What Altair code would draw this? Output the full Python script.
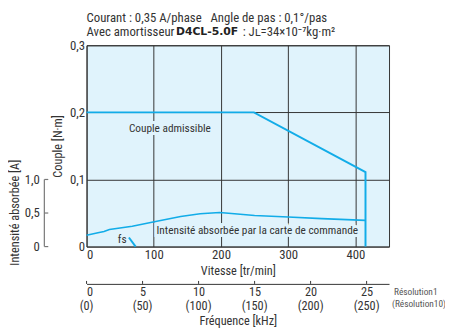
import altair as alt
import pandas as pd

FONT = "Roboto Condensed, Noto Sans Condensed, Liberation Sans Narrow, DejaVu Sans Condensed, sans-serif"
BLUE = "#12ace8"
GRID = "#333333"
TXT = "#333333"
FILL = "#e0f3fc"

# ---- data ----
torque_rpm = [0, 249, 415, 415]
torque_nm = [0.2, 0.2, 0.111, 0.0]

current_rpm = [0, 17, 26, 34, 68, 99, 140, 169, 198, 220, 250, 300, 350, 415]
current_a = [0.17, 0.205, 0.224, 0.254, 0.302, 0.366, 0.449, 0.488, 0.507, 0.49, 0.462, 0.44, 0.417, 0.39]

fs_rpm = [63, 73]
fs_nm = [0.0135, 0.0]

rpm_ticks = [0, 100, 200, 300, 400]
torque_ticks = [0, 0.05, 0.1, 0.15, 0.2, 0.25, 0.3]
current_ticks = [0, 0.5, 1.0]
freq_ticks = [0, 5, 10, 15, 20, 25]
freq_res10_labels = ["(0)", "(50)", "(100)", "(150)", "(200)", "(250)"]

labels = ["Couple admissible", "Intensité absorbée par la carte de commande", "fs"]
label_rpm = [124, 254, 53]
label_nm = [0.175, 0.0225, 0.009]

W, H = 308, 205

torque_df = pd.DataFrame({"rpm": torque_rpm, "nm": torque_nm})
current_df = pd.DataFrame({"rpm": current_rpm, "a": current_a})
fs_df = pd.DataFrame({"rpm": fs_rpm, "nm": fs_nm})
lab_df = pd.DataFrame({"t": labels, "rpm": label_rpm, "nm": label_nm})
cur_tick_df = pd.DataFrame({"a": current_ticks})
freq_df = pd.DataFrame({"freq": freq_ticks, "lab10": freq_res10_labels})

xs = alt.Scale(domain=[0, 450], nice=False, zero=False)
ys = alt.Scale(domain=[0, 0.3], nice=False)

xaxis = alt.Axis(values=rpm_ticks, grid=True, ticks=False, domain=False,
                 labelPadding=2, title="Vitesse [tr/min]", titlePadding=3)
yaxis = alt.Axis(values=torque_ticks, grid=True, ticks=False, domain=False,
                 labelPadding=2, title="Couple [N·m]", titlePadding=5,
                 labelExpr="datum.value == 0 ? '0' : (round(datum.value*100) % 10 == 0 ? replace(format(datum.value, '.1f'), '.', ',') : '')")

torque_line = alt.Chart(torque_df).mark_line(color=BLUE, strokeWidth=2).encode(
    x=alt.X("rpm:Q", scale=xs, axis=xaxis),
    y=alt.Y("nm:Q", scale=ys, axis=yaxis),
)
fs_line = alt.Chart(fs_df).mark_line(color=BLUE, strokeWidth=2).encode(
    x=alt.X("rpm:Q", scale=xs), y=alt.Y("nm:Q", scale=ys)
)
halo = alt.Chart(lab_df).mark_text(fontSize=11.5, color=FILL, stroke=FILL, strokeWidth=6,
                                   font=FONT, baseline="middle").encode(
    x=alt.X("rpm:Q", scale=xs), y=alt.Y("nm:Q", scale=ys), text="t:N"
)
texts = alt.Chart(lab_df).mark_text(fontSize=11.5, color=TXT, font=FONT, baseline="middle").encode(
    x=alt.X("rpm:Q", scale=xs), y=alt.Y("nm:Q", scale=ys), text="t:N"
)
torque_layer = alt.layer(halo, torque_line, fs_line, texts)

cur_scale = alt.Scale(domain=[0, 3], nice=False)
cur_axis = alt.Axis(orient="left", offset=44, values=current_ticks, domain=False, ticks=False,
                    grid=False, labelPadding=4, labelColor=TXT,
                    labelExpr="datum.value == 0 ? '0' : replace(format(datum.value, '.1f'), '.', ',')",
                    title="Intensité absorbée [A]", titleX=-29, titleY=170, titleBaseline="middle")
current_line = alt.Chart(current_df).mark_line(color=BLUE, strokeWidth=1.6).encode(
    x=alt.X("rpm:Q", scale=xs, axis=None),
    y=alt.Y("a:Q", scale=cur_scale, axis=cur_axis),
)
cur_rule = alt.Chart(cur_tick_df).mark_rule(color="#777777", strokeWidth=1.2).encode(
    x=alt.value(-43), y=alt.Y("min(a):Q", scale=cur_scale), y2="max(a):Q"
)
cur_ticks = alt.Chart(cur_tick_df).mark_rule(color="#777777", strokeWidth=1.2).encode(
    x=alt.value(-43), x2=alt.value(-39), y=alt.Y("a:Q", scale=cur_scale)
)
current_layer = alt.layer(current_line, cur_rule, cur_ticks)

fscale = alt.Scale(domain=[0, 27], nice=False)
freq_axis = alt.Axis(orient="bottom", offset=38, values=freq_ticks, ticks=False, grid=False,
                     domain=True, domainColor=GRID, labelPadding=2, labelFontSize=12.5,
                     title="Fréquence [kHz]", titlePadding=17)
freq_rule = alt.Chart(freq_df).mark_rule(color=GRID).encode(
    x=alt.X("freq:Q", scale=fscale, axis=freq_axis),
    y=alt.value(H + 38 - 3), y2=alt.value(H + 38),
)
freq_lab10 = alt.Chart(freq_df).mark_text(fontSize=12.5, color=TXT, font=FONT, baseline="middle").encode(
    x=alt.X("freq:Q", scale=fscale), y=alt.value(H + 61), text="lab10:N"
)
res_df = pd.DataFrame({"t": ["Résolution1", "(Résolution10)"]})
res1 = alt.Chart(res_df.iloc[[0]]).mark_text(fontSize=9.5, color="#555555", font=FONT, align="left", baseline="middle").encode(
    x=alt.value(313), y=alt.value(251), text="t:N")
res2 = alt.Chart(res_df.iloc[[1]]).mark_text(fontSize=9.5, color="#555555", font=FONT, align="left", baseline="middle").encode(
    x=alt.value(311), y=alt.value(264), text="t:N")

head_df = pd.DataFrame({"t": ["Courant : 0,35 A/phase\u00a0\u00a0\u00a0Angle de pas : 0,1°/pas",
                              "Avec amortisseur", "D4CL-5.0F", ": Jʟ=34×10⁻⁷kg·m²"]})
h1 = alt.Chart(head_df.iloc[[0]]).mark_text(fontSize=13, color=TXT, font=FONT, align="left", baseline="middle").encode(
    x=alt.value(0), y=alt.value(-28), text="t:N")
h2 = alt.Chart(head_df.iloc[[1]]).mark_text(fontSize=13, color=TXT, font=FONT, align="left", baseline="middle").encode(
    x=alt.value(0), y=alt.value(-13), text="t:N")
h3 = alt.Chart(head_df.iloc[[2]]).mark_text(fontSize=11, color="#222222", font="DejaVu Sans", fontWeight="bold", align="left", baseline="middle").encode(
    x=alt.value(91), y=alt.value(-13), text="t:N")
h4 = alt.Chart(head_df.iloc[[3]]).mark_text(fontSize=13, color=TXT, font=FONT, align="left", baseline="middle").encode(
    x=alt.value(159), y=alt.value(-13), text="t:N")

freq_layer = alt.layer(freq_rule, freq_lab10, res1, res2, h1, h2, h3, h4)

chart = alt.layer(torque_layer, current_layer, freq_layer).resolve_scale(
    x="independent", y="independent"
).properties(
    width=W, height=H,
    autosize=alt.AutoSizeParams(type="none"),
    padding={"left": 80, "top": 35, "right": 57, "bottom": 82},
).configure(font=FONT).configure_view(
    fill=FILL, stroke=GRID, strokeWidth=1
).configure_axis(
    labelFont=FONT, titleFont=FONT, labelFontSize=13, titleFontSize=12.5,
    labelColor=TXT, titleColor=TXT, titleFontWeight="normal",
    gridColor=GRID, gridWidth=1, gridOpacity=1,
)

chart.save("out.html", embed_options={"renderer": "svg", "actions": False})
